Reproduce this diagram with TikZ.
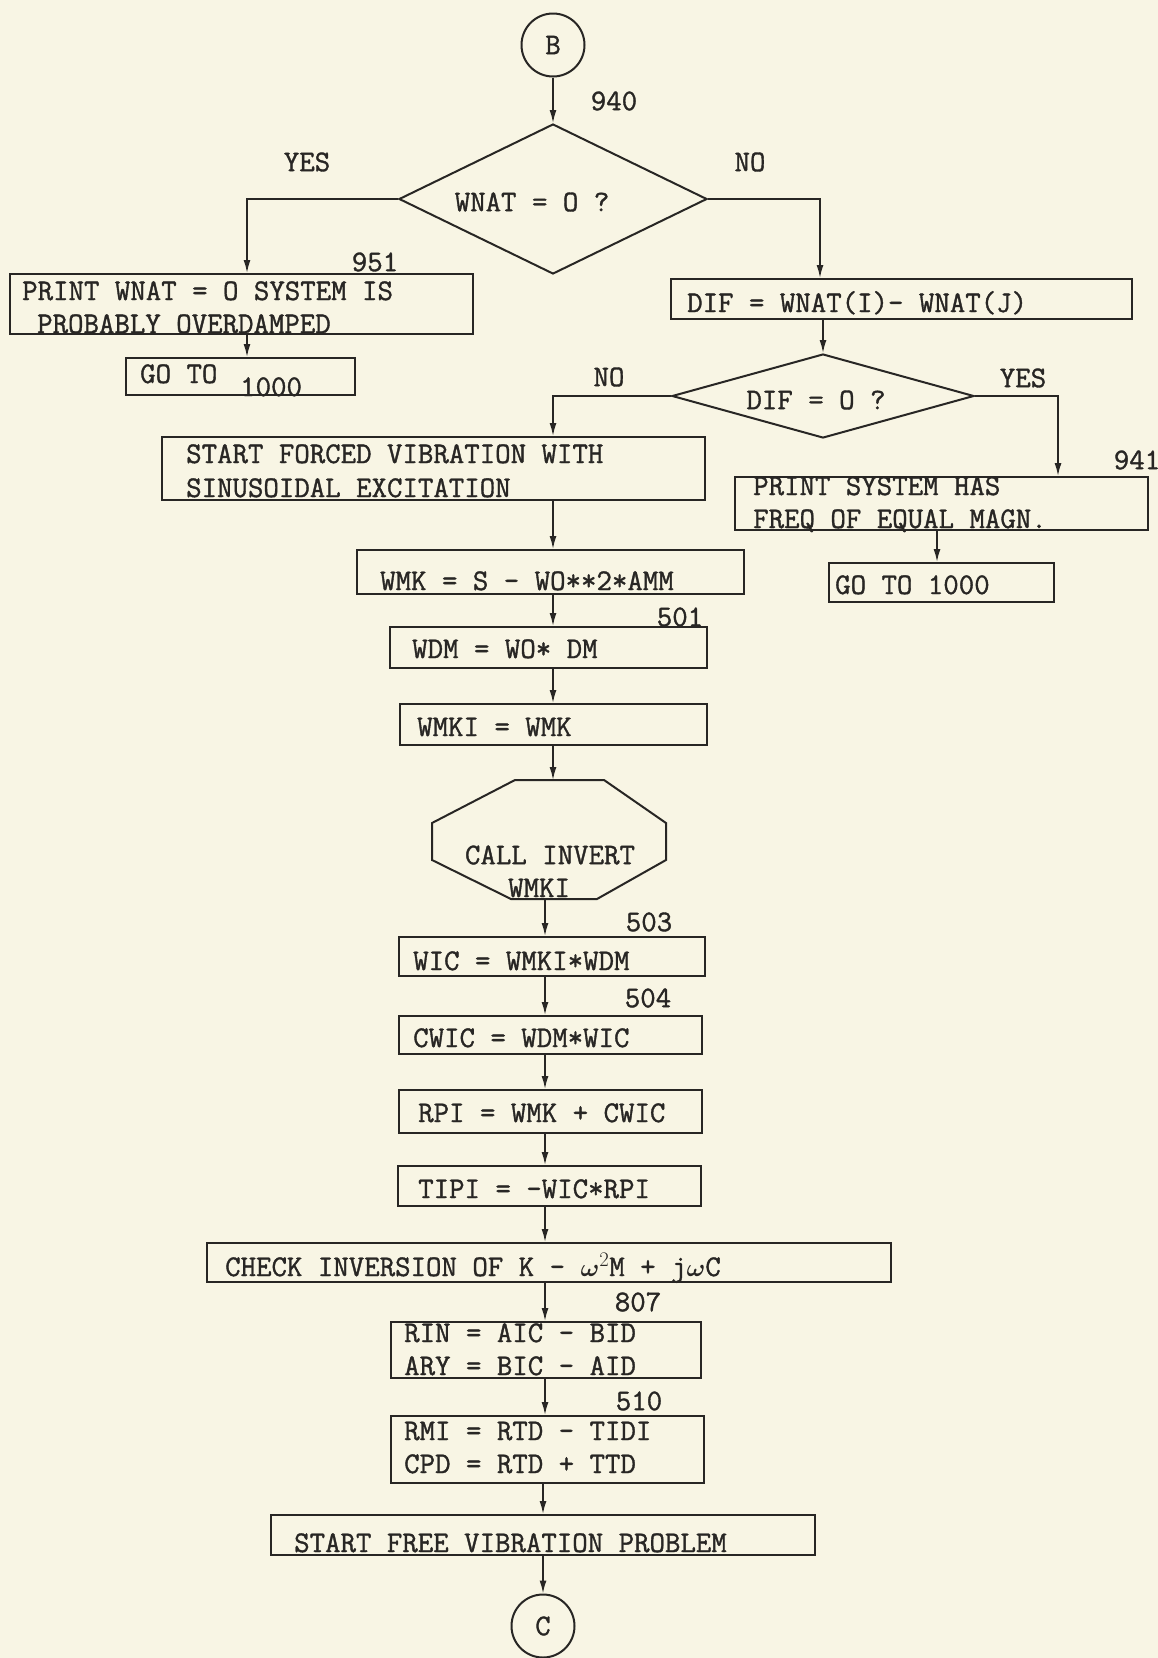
\documentclass[tikz,border=0pt]{standalone}
\usepackage{bm}
\usepackage{fontspec}
\newfontfamily\twfont[FakeBold=1.2]{Latin Modern Mono}
\usetikzlibrary{shapes.geometric,arrows.meta}
\definecolor{bg}{RGB}{248,245,228}
\definecolor{ink}{RGB}{40,38,36}
\begin{document}
\begin{tikzpicture}[x=1pt,y=-1pt,
  box/.style={draw=ink,line width=2pt,inner sep=0pt},
  dia/.style={diamond,draw=ink,line width=2pt,inner sep=0pt},
  conn/.style={circle,draw=ink,line width=2pt,inner sep=0pt,minimum size=63pt,font=\fontsize{30}{36}\selectfont\twfont,text=ink},
  txt/.style={font=\fontsize{30}{36}\selectfont\twfont,text=ink,inner sep=0pt,anchor=base west},
  lbl/.style={font=\fontsize{30}{36}\selectfont\twfont,text=ink,inner sep=0pt},
  arr/.style={draw=ink,line width=1.6pt,-{Latex[length=13pt,width=7pt]}},
  ln/.style={draw=ink,line width=1.6pt}]
\fill[bg] (0,0) rectangle (1158,1658);
\useasboundingbox (0,0) rectangle (1158,1658);

% column coordinates
\coordinate (colA) at (553,0);
\coordinate (colB) at (545,0);
\coordinate (yesx) at (247,0);
\coordinate (nox) at (820,0);
\coordinate (x941) at (1058,0);
\coordinate (x936) at (937,0);

% connectors B, C
\node[conn] (B) at (553,45) {B};
\node[conn] (C) at (543,1626) {C};

% decision 1
\node[dia,minimum width=308pt,minimum height=150pt] (d1) at (553,199) {};
\node[lbl] (t_d1) at (532,202) {WNAT = O ?};
\node[lbl] (l940) at (614,101) {940};
\node[lbl] (lyes1) at (307,162) {YES};
\node[lbl] (lno1) at (750,162) {NO};

% left branch
\node[box,minimum width=463pt,minimum height=60pt] (p951) at (241.5,304) {};
\node[lbl] (l951) at (375,262) {951};
\node[txt] (t_p951a) at (22,300) {PRINT WNAT = O SYSTEM IS};
\node[txt] (t_p951b) at (37,333) {PROBABLY OVERDAMPED};
\node[box,minimum width=229pt,minimum height=37pt] (goto1) at (240.5,376.5) {};
\node[txt] (t_goto1a) at (140,383) {GO TO};
\node[txt] (t_goto1b) at (240,396) {1000};

% right branch
\node[box,minimum width=461pt,minimum height=40pt] (dif) at (901.5,299) {};
\node[txt] (t_dif) at (687,312) {DIF = WNAT(I)- WNAT(J)};

% decision 2
\node[dia,minimum width=302pt,minimum height=84pt] (d2) at (823,396) {};
\node[lbl] (t_d2) at (816,400) {DIF = O ?};
\node[lbl] (lno2) at (609,377) {NO};
\node[lbl] (lyes2) at (1023,378) {YES};

\node[box,minimum width=543pt,minimum height=63pt] (forced) at (433.5,468.5) {};
\node[txt] (t_forceda) at (186,463) {START FORCED VIBRATION WITH};
\node[txt] (t_forcedb) at (186,497) {SINUSOIDAL EXCITATION};

\node[box,minimum width=413pt,minimum height=53pt] (p941) at (941.5,503.5) {};
\node[lbl] (l941) at (1137,460) {941};
\node[txt] (t_p941a) at (753,495) {PRINT SYSTEM HAS};
\node[txt] (t_p941b) at (753,528) {FREQ OF EQUAL MAGN.};
\node[box,minimum width=225pt,minimum height=39pt] (goto2) at (941.5,582.5) {};
\node[txt] (t_goto2) at (835,594) {GO TO 1000};

% main column
\node[box,minimum width=387pt,minimum height=44pt] (wmk) at (550.5,572) {};
\node[txt] (t_wmk) at (380,590) {WMK = S - WO**2*AMM};
\node[lbl] (l501) at (680,617) {501};
\node[box,minimum width=317pt,minimum height=41pt] (wdm) at (548.5,647.5) {};
\node[txt] (t_wdm) at (412,658) {WDM = WO* DM};
\node[box,minimum width=307pt,minimum height=41pt] (wmki) at (553.5,724.5) {};
\node[txt] (t_wmki) at (417,736) {WMKI = WMK};

% octagon
\draw[box] (515,780) -- (604,780) -- (666,823) -- (666,860) -- (597,899)
  -- (511,899) -- (432,860) -- (432,823) -- cycle;
\coordinate (octtop) at (553,780);
\coordinate (octbot) at (545,899);
\node[lbl] (t_oct1) at (550,855) {CALL INVERT};
\node[txt] (t_oct2) at (508,897) {WMKI};

\node[lbl] (l503) at (649,922) {503};
\node[box,minimum width=306pt,minimum height=39pt] (wic) at (552,956.5) {};
\node[txt] (t_wic) at (413,970) {WIC = WMKI*WDM};
\node[lbl] (l504) at (648,998) {504};
\node[box,minimum width=303pt,minimum height=38pt] (cwic) at (550.5,1035) {};
\node[txt] (t_cwic) at (413,1047) {CWIC = WDM*WIC};
\node[box,minimum width=303pt,minimum height=43pt] (rpi) at (550.5,1111.5) {};
\node[txt] (t_rpi) at (418,1122) {RPI = WMK + CWIC};
\node[box,minimum width=303pt,minimum height=40pt] (tipi) at (549.5,1186) {};
\node[txt] (t_tipi) at (418,1198) {TIPI = -WIC*RPI};
\node[box,minimum width=684pt,minimum height=39pt] (check) at (549,1262.5) {};
\node[txt] (t_check) at (225,1276) {CHECK INVERSION OF K - $\bm{\omega}^2$M + j$\bm{\omega}$C};
\node[lbl] (l807) at (638,1302) {807};
\node[box,minimum width=310pt,minimum height=56pt] (rin) at (546,1350) {};
\node[txt] (t_rina) at (404,1342) {RIN = AIC - BID};
\node[txt] (t_rinb) at (404,1375) {ARY = BIC - AID};
\node[lbl] (l510) at (639,1401) {510};
\node[box,minimum width=313pt,minimum height=67pt] (rmi) at (547.5,1449.5) {};
\node[txt] (t_rmia) at (404,1440) {RMI = RTD - TIDI};
\node[txt] (t_rmib) at (404,1473) {CPD = RTD + TTD};
\node[box,minimum width=544pt,minimum height=40pt] (free) at (543,1535) {};
\node[txt] (t_free) at (294,1552) {START FREE VIBRATION PROBLEM};

% arrows
\draw[arr] (B.south) -- (d1.north);
\draw[arr] (d1.west) -| (p951.north -| yesx);
\draw[arr] (p951.south -| yesx) -- (goto1.north -| yesx);
\draw[arr] (d1.east) -| (dif.north -| nox);
\draw[arr] (dif.south -| d2.north) -- (d2.north);
\draw[arr] (d2.west) -| (forced.north -| colA);
\draw[arr] (d2.east) -| (p941.north -| x941);
\draw[arr] (p941.south -| x936) -- (goto2.north -| x936);
\draw[arr] (forced.south -| colA) -- (wmk.north -| colA);
\draw[arr] (wmk.south -| colA) -- (wdm.north -| colA);
\draw[arr] (wdm.south -| colA) -- (wmki.north -| colA);
\draw[arr] (wmki.south -| colA) -- (octtop);
\draw[arr] (octbot) -- (wic.north -| colB);
\draw[arr] (wic.south -| colB) -- (cwic.north -| colB);
\draw[arr] (cwic.south -| colB) -- (rpi.north -| colB);
\draw[arr] (rpi.south -| colB) -- (tipi.north -| colB);
\draw[arr] (tipi.south -| colB) -- (check.north -| colB);
\draw[arr] (check.south -| colB) -- (rin.north -| colB);
\draw[arr] (rin.south -| colB) -- (rmi.north -| colB);
\draw[arr] (rmi.south -| C.north) -- (free.north -| C.north);
\draw[arr] (free.south -| C.north) -- (C.north);
\end{tikzpicture}
\end{document}
